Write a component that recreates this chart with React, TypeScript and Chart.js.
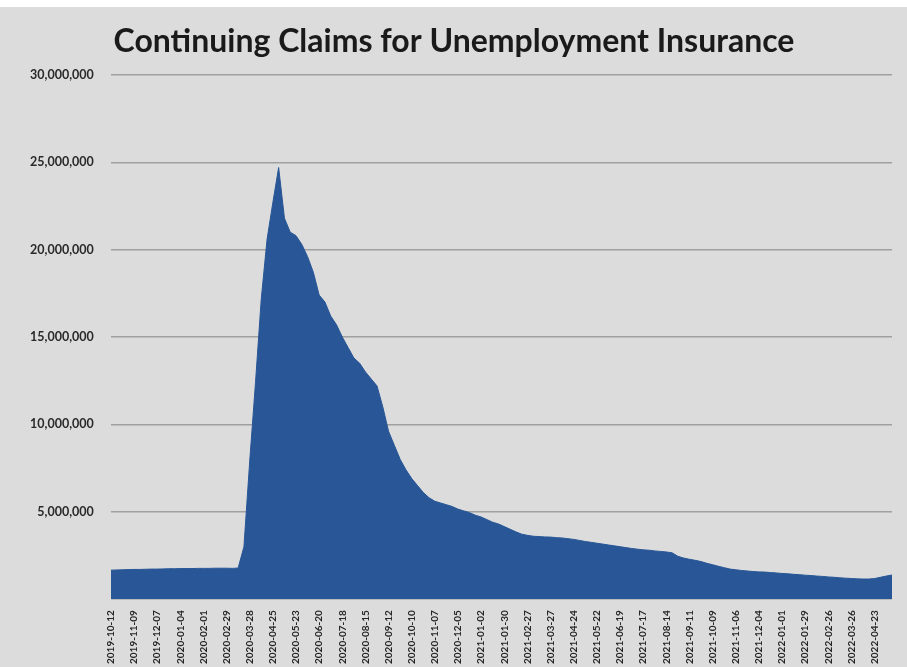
import React, { useEffect, useRef } from 'react';
import { Chart, registerables } from 'chart.js';

Chart.register(...registerables);

const chartTitle = 'Continuing Claims for Unemployment Insurance';

// Tick labels shown every 4th week
const tickDates: string[] = [
  '2019-10-12', '2019-11-09', '2019-12-07', '2020-01-04', '2020-02-01', '2020-02-29',
  '2020-03-28', '2020-04-25', '2020-05-23', '2020-06-20', '2020-07-18', '2020-08-15',
  '2020-09-12', '2020-10-10', '2020-11-07', '2020-12-05', '2021-01-02', '2021-01-30',
  '2021-02-27', '2021-03-27', '2021-04-24', '2021-05-22', '2021-06-19', '2021-07-17',
  '2021-08-14', '2021-09-11', '2021-10-09', '2021-11-06', '2021-12-04', '2022-01-01',
  '2022-01-29', '2022-02-26', '2022-03-26', '2022-04-23',
];

// Weekly continuing claims
const claims: number[] = [
  1660000, 1670000, 1680000, 1690000, 1700000, 1700000, 1710000, 1720000, 1720000, 1730000,
  1740000, 1740000, 1750000, 1750000, 1750000, 1760000, 1760000, 1760000, 1770000, 1770000,
  1770000, 1760000, 1780000, 3000000, 7900000, 12400000, 17200000, 20600000, 22700000, 24700000,
  21800000, 21000000, 20800000, 20300000, 19600000, 18700000, 17400000, 17000000, 16200000, 15700000,
  15000000, 14400000, 13800000, 13500000, 13000000, 12600000, 12200000, 11000000, 9600000, 8800000,
  8000000, 7400000, 6900000, 6500000, 6100000, 5800000, 5600000, 5500000, 5400000, 5300000,
  5150000, 5050000, 4950000, 4800000, 4700000, 4550000, 4400000, 4300000, 4150000, 4000000,
  3850000, 3720000, 3650000, 3600000, 3580000, 3560000, 3550000, 3520000, 3500000, 3460000,
  3420000, 3360000, 3300000, 3250000, 3200000, 3150000, 3100000, 3050000, 3000000, 2950000,
  2900000, 2860000, 2820000, 2800000, 2760000, 2730000, 2700000, 2650000, 2450000, 2350000,
  2280000, 2220000, 2150000, 2050000, 1970000, 1880000, 1800000, 1720000, 1680000, 1640000,
  1610000, 1580000, 1560000, 1550000, 1520000, 1500000, 1470000, 1450000, 1420000, 1400000,
  1370000, 1350000, 1320000, 1300000, 1270000, 1250000, 1220000, 1200000, 1180000, 1160000,
  1150000, 1150000, 1180000, 1250000, 1320000, 1380000,
];

const yTicks: number[] = [0, 5000000, 10000000, 15000000, 20000000, 25000000, 30000000];

const weekLabels: string[] = claims.map((_, i) => (i % 4 === 0 ? tickDates[i / 4] ?? '' : ''));

const bgPlugin = {
  id: 'bgFill',
  beforeDraw(chart: any) {
    const { ctx, width, height } = chart;
    ctx.save();
    ctx.fillStyle = '#ffffff';
    ctx.fillRect(0, 0, width, height);
    ctx.fillStyle = '#dcdcdc';
    ctx.fillRect(0, 7, width, height - 7);
    ctx.restore();
  },
};

export default function App() {
  const canvasRef = useRef<HTMLCanvasElement | null>(null);

  useEffect(() => {
    if (!canvasRef.current) return;
    const chart = new Chart(canvasRef.current, {
      type: 'line',
      data: {
        labels: weekLabels,
        datasets: [
          {
            label: 'Continuing Claims',
            data: claims,
            fill: 'origin',
            backgroundColor: '#285696',
            borderColor: '#285696',
            borderWidth: 1,
            pointRadius: 0,
            tension: 0,
          },
        ],
      },
      options: {
        animation: false,
        responsive: true,
        maintainAspectRatio: false,
        layout: { padding: { left: 13, right: 12, top: 0, bottom: 0 } },
        plugins: {
          legend: { display: false },
          tooltip: { enabled: false },
          title: {
            display: true,
            text: chartTitle,
            color: '#1a1a1a',
            font: { family: 'Lato', size: 32, weight: 'bold' },
            padding: { top: 22, bottom: 14.5 },
          },
        },
        scales: {
          x: {
            grid: { display: false },
            border: { display: false },
            ticks: {
              autoSkip: false,
              maxRotation: 90,
              minRotation: 90,
              color: '#262626',
              font: { family: 'Lato', size: 10, weight: 'bold' },
              padding: 3,
            },
          },
          y: {
            min: 0,
            max: 30000000,
            afterBuildTicks: (axis: any) => {
              axis.ticks = yTicks.map((v) => ({ value: v }));
            },
            ticks: {
              color: '#2a2a2a',
              font: { family: 'Lato', size: 12.5, weight: 'bold' },
              padding: 17,
              callback: (v: any) => (Number(v) === 0 ? '' : Number(v).toLocaleString('en-US')),
            },
            grid: { color: '#a0a0a0', lineWidth: 1.5, drawTicks: false },
            border: { display: false },
          },
        },
      },
      plugins: [bgPlugin],
    });
    return () => chart.destroy();
  }, []);

  return (
    <div style={{ position: 'fixed', left: 0, top: 0, width: 907, height: 667 }}>
      <canvas ref={canvasRef} />
    </div>
  );
}
